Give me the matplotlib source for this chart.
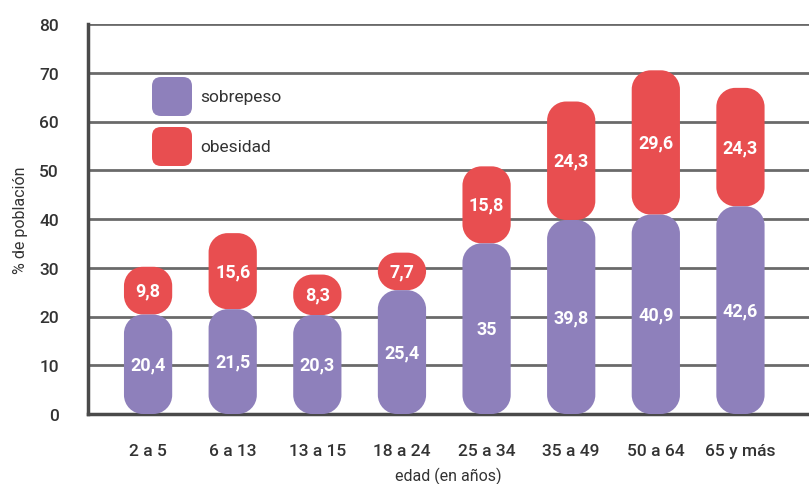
import numpy as np
import matplotlib
matplotlib.use('Agg')
import matplotlib.pyplot as plt
from matplotlib.path import Path
from matplotlib.patches import PathPatch, FancyBboxPatch

plt.rcParams['font.family'] = ['Roboto', 'DejaVu Sans']

grupos = ['2 a 5', '6 a 13', '13 a 15', '18 a 24', '25 a 34', '35 a 49', '50 a 64', '65 y más']
sobrepeso = [20.4, 21.5, 20.3, 25.4, 35, 39.8, 40.9, 42.6]
obesidad = [9.8, 15.6, 8.3, 7.7, 15.8, 24.3, 29.6, 24.3]

c_sobre = '#8e80bb'
c_obes = '#e84e50'
ancho = 0.57

fig = plt.figure(figsize=(8.09, 4.85), dpi=100)
ax = fig.add_axes([88 / 809, 70 / 485, 721 / 809, 390 / 485])
ax.set_xlim(-0.71, 7.81)
ax.set_ylim(0, 80)

# px por unidad en cada eje, para que las esquinas sean circulares
fig.canvas.draw()
p0 = ax.transData.transform((0, 0))
p1 = ax.transData.transform((1, 1))
px_x = p1[0] - p0[0]
px_y = p1[1] - p0[1]
K = 0.5523
RADIO = 19  # px


def caja_redonda(x0, y0, x1, y1, rx, ry):
    v = [(x0 + rx, y0), (x1 - rx, y0),
         (x1 - rx + K * rx, y0), (x1, y0 + ry - K * ry), (x1, y0 + ry),
         (x1, y1 - ry),
         (x1, y1 - ry + K * ry), (x1 - rx + K * rx, y1), (x1 - rx, y1),
         (x0 + rx, y1),
         (x0 + rx - K * rx, y1), (x0, y1 - ry + K * ry), (x0, y1 - ry),
         (x0, y0 + ry),
         (x0, y0 + ry - K * ry), (x0 + rx - K * rx, y0), (x0 + rx, y0),
         (x0 + rx, y0)]
    c = ([Path.MOVETO, Path.LINETO] + [Path.CURVE4] * 3 + [Path.LINETO]
         + [Path.CURVE4] * 3 + [Path.LINETO] + [Path.CURVE4] * 3
         + [Path.LINETO] + [Path.CURVE4] * 3 + [Path.CLOSEPOLY])
    return Path(v, c)


def barra(x, y0, alto, color):
    r = min(RADIO, ancho * px_x / 2, alto * px_y / 2)
    p = caja_redonda(x - ancho / 2, y0, x + ancho / 2, y0 + alto, r / px_x, r / px_y)
    ax.add_patch(PathPatch(p, fc=color, ec='none', zorder=3))


def fmt(v):
    return f'{v:g}'.replace('.', ',')


for i, (s, o) in enumerate(zip(sobrepeso, obesidad)):
    barra(i, s, o, c_obes)
    barra(i, 0, s, c_sobre)
    ax.text(i, s / 2, fmt(s), ha='center', va='center', color='white',
            fontsize=13, fontweight='bold', zorder=4)
    ax.text(i, s + o / 2, fmt(o), ha='center', va='center', color='white',
            fontsize=13, fontweight='bold', zorder=4)

ax.set_yticks(np.arange(0, 81, 10))
ax.set_xticks(range(len(grupos)))
ax.set_xticklabels(grupos)
ax.yaxis.grid(True, color='#6a6a6a', linewidth=2)
ax.set_axisbelow(True)
ax.tick_params(length=0, labelsize=12.5, labelcolor='#333333')
ax.tick_params(axis='x', pad=21)
ax.tick_params(axis='y', pad=21)
for t in ax.get_yticklabels() + ax.get_xticklabels():
    t.set_fontweight('medium')
for sp in ['top', 'right']:
    ax.spines[sp].set_visible(False)
ax.spines['left'].set_color('#4a4a4a')
ax.spines['left'].set_linewidth(2.5)
ax.spines['bottom'].set_color('#4a4a4a')
ax.spines['bottom'].set_linewidth(2.5)

ax.set_xlabel('edad (en años)', fontsize=11.5, color='#333333', labelpad=6)
ax.set_ylabel('% de población', fontsize=11.5, color='#333333', labelpad=8)

# leyenda con cuadros redondeados
for yy, col, lab in [(3.68, c_sobre, 'sobrepeso'), (3.18, c_obes, 'obesidad')]:
    fig.add_artist(FancyBboxPatch((1.52, yy), 0.40, 0.39,
                                  boxstyle='round,pad=0,rounding_size=0.09',
                                  transform=fig.dpi_scale_trans, fc=col, ec='none'))
    fig.text(2.00, yy + 0.195, lab, transform=fig.dpi_scale_trans,
             va='center', ha='left', fontsize=12.5, color='#333333')

fig.savefig('out.png', dpi=100)
